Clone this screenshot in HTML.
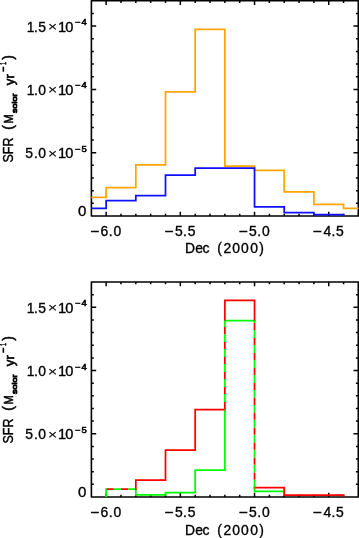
<!DOCTYPE html>
<html><head><meta charset="utf-8"><style>
html,body{margin:0;padding:0;background:#fff;overflow:hidden}
svg{display:block}
</style></head><body>
<svg width="359" height="538" viewBox="0 0 359 538">
<rect width="359" height="538" fill="#fff"/>
<rect x="91.4" y="0.8" width="266.90" height="215.20" fill="none" stroke="#000" stroke-width="1.6" stroke-linejoin="round"/>
<path d="M106.14,216.0v-4.2M106.14,0.8v4.2M120.98,216.0v-2.3M120.98,0.8v2.3M135.82,216.0v-2.3M135.82,0.8v2.3M150.66,216.0v-2.3M150.66,0.8v2.3M165.50,216.0v-2.3M165.50,0.8v2.3M180.34,216.0v-4.2M180.34,0.8v4.2M195.18,216.0v-2.3M195.18,0.8v2.3M210.02,216.0v-2.3M210.02,0.8v2.3M224.86,216.0v-2.3M224.86,0.8v2.3M239.70,216.0v-2.3M239.70,0.8v2.3M254.54,216.0v-4.2M254.54,0.8v4.2M269.38,216.0v-2.3M269.38,0.8v2.3M284.22,216.0v-2.3M284.22,0.8v2.3M299.06,216.0v-2.3M299.06,0.8v2.3M313.90,216.0v-2.3M313.90,0.8v2.3M328.74,216.0v-4.2M328.74,0.8v4.2M343.58,216.0v-2.3M343.58,0.8v2.3M91.4,203.34h2.4M358.3,203.34h-2.4M91.4,190.68h2.4M358.3,190.68h-2.4M91.4,178.02h2.4M358.3,178.02h-2.4M91.4,165.36h2.4M358.3,165.36h-2.4M91.4,152.71h4.8M358.3,152.71h-4.8M91.4,140.05h2.4M358.3,140.05h-2.4M91.4,127.39h2.4M358.3,127.39h-2.4M91.4,114.73h2.4M358.3,114.73h-2.4M91.4,102.07h2.4M358.3,102.07h-2.4M91.4,89.41h4.8M358.3,89.41h-4.8M91.4,76.75h2.4M358.3,76.75h-2.4M91.4,64.09h2.4M358.3,64.09h-2.4M91.4,51.44h2.4M358.3,51.44h-2.4M91.4,38.78h2.4M358.3,38.78h-2.4M91.4,26.12h4.8M358.3,26.12h-4.8M91.4,13.46h2.4M358.3,13.46h-2.4" stroke="#000" stroke-width="1.5" fill="none"/>
<rect x="91.4" y="282.0" width="266.90" height="215.00" fill="none" stroke="#000" stroke-width="1.6" stroke-linejoin="round"/>
<path d="M106.14,497.0v-4.2M106.14,282.0v4.2M120.98,497.0v-2.3M120.98,282.0v2.3M135.82,497.0v-2.3M135.82,282.0v2.3M150.66,497.0v-2.3M150.66,282.0v2.3M165.50,497.0v-2.3M165.50,282.0v2.3M180.34,497.0v-4.2M180.34,282.0v4.2M195.18,497.0v-2.3M195.18,282.0v2.3M210.02,497.0v-2.3M210.02,282.0v2.3M224.86,497.0v-2.3M224.86,282.0v2.3M239.70,497.0v-2.3M239.70,282.0v2.3M254.54,497.0v-4.2M254.54,282.0v4.2M269.38,497.0v-2.3M269.38,282.0v2.3M284.22,497.0v-2.3M284.22,282.0v2.3M299.06,497.0v-2.3M299.06,282.0v2.3M313.90,497.0v-2.3M313.90,282.0v2.3M328.74,497.0v-4.2M328.74,282.0v4.2M343.58,497.0v-2.3M343.58,282.0v2.3M91.4,484.35h2.4M358.3,484.35h-2.4M91.4,471.71h2.4M358.3,471.71h-2.4M91.4,459.06h2.4M358.3,459.06h-2.4M91.4,446.41h2.4M358.3,446.41h-2.4M91.4,433.76h4.8M358.3,433.76h-4.8M91.4,421.12h2.4M358.3,421.12h-2.4M91.4,408.47h2.4M358.3,408.47h-2.4M91.4,395.82h2.4M358.3,395.82h-2.4M91.4,383.18h2.4M358.3,383.18h-2.4M91.4,370.53h4.8M358.3,370.53h-4.8M91.4,357.88h2.4M358.3,357.88h-2.4M91.4,345.24h2.4M358.3,345.24h-2.4M91.4,332.59h2.4M358.3,332.59h-2.4M91.4,319.94h2.4M358.3,319.94h-2.4M91.4,307.29h4.8M358.3,307.29h-4.8M91.4,294.65h2.4M358.3,294.65h-2.4" stroke="#000" stroke-width="1.5" fill="none"/>
<path d="M91.30,197.30 L106.14,197.30 L106.14,187.50 L135.82,187.50 L135.82,164.80 L165.50,164.80 L165.50,91.90 L195.18,91.90 L195.18,29.30 L224.86,29.30 L224.86,166.20 L254.54,166.20 L254.54,170.30 L284.22,170.30 L284.22,191.90 L313.90,191.90 L313.90,204.30 L343.58,204.30 L343.58,208.30 L358.42,208.30" fill="none" stroke="#ffa500" stroke-width="1.75"/>
<path d="M91.30,208.30 L106.14,208.30 L106.14,200.70 L135.82,200.70 L135.82,195.60 L165.50,195.60 L165.50,175.00 L195.18,175.00 L195.18,168.10 L224.86,168.10 L224.86,168.10 L254.54,168.10 L254.54,206.80 L284.22,206.80 L284.22,212.60 L313.90,212.60 L313.90,214.60 L343.58,214.60 L343.58,216.00" fill="none" stroke="#1010ff" stroke-width="1.75"/>
<path d="M135.82,489.10 L135.82,494.80 L165.50,494.80 L165.50,492.50 L195.18,492.50 L195.18,470.10 L224.86,470.10 L224.86,409.60" fill="none" stroke="#00ff00" stroke-width="1.75" stroke-linecap="square"/>
<path d="M224.86,320.60 L254.54,320.60" fill="none" stroke="#00ff00" stroke-width="1.75" stroke-linecap="square"/>
<path d="M254.54,487.50 L254.54,491.40 L284.22,491.40 L284.22,495.20" fill="none" stroke="#00ff00" stroke-width="1.75" stroke-linecap="square"/>
<path d="M135.82,489.10 L135.82,480.00 L165.50,480.00 L165.50,450.10 L195.18,450.10 L195.18,409.60 L224.86,409.60" fill="none" stroke="#ff0000" stroke-width="1.75" stroke-linecap="square"/>
<path d="M224.86,320.60 L224.86,300.40 L254.54,300.40 L254.54,320.60" fill="none" stroke="#ff0000" stroke-width="1.75" stroke-linecap="square"/>
<path d="M254.54,487.50 L284.22,487.50 L284.22,495.20 L343.58,495.20 L343.58,496.20" fill="none" stroke="#ff0000" stroke-width="1.75" stroke-linecap="square"/>
<path d="M106.14,496.20 L106.14,489.10" fill="none" stroke="#00ff00" stroke-width="1.75" stroke-linecap="square"/>
<path d="M106.14,489.10 L135.82,489.10" stroke="#00ff00" stroke-width="1.75" stroke-dasharray="7.30 7.00" stroke-dashoffset="-7.66"/>
<path d="M106.14,489.10 L135.82,489.10" stroke="#ff0000" stroke-width="1.75" stroke-dasharray="7.00 7.30" stroke-dashoffset="-0.66"/>
<path d="M224.86,320.60 L224.86,409.60" stroke="#00ff00" stroke-width="1.75" stroke-dasharray="7.91 7.05" stroke-dashoffset="-13.55"/>
<path d="M224.86,320.60 L224.86,409.60" stroke="#ff0000" stroke-width="1.75" stroke-dasharray="7.05 7.91" stroke-dashoffset="-6.50"/>
<path d="M254.54,320.60 L254.54,487.50" stroke="#00ff00" stroke-width="1.75" stroke-dasharray="7.92 7.05" stroke-dashoffset="-9.45"/>
<path d="M254.54,320.60 L254.54,487.50" stroke="#ff0000" stroke-width="1.75" stroke-dasharray="7.05 7.92" stroke-dashoffset="-2.40"/>
<g fill="#000" stroke="#000" stroke-width="0.35" style="font-kerning:none">
<text transform="translate(0,31.52) scale(1.0000,1)" x="26.64 34.03 38.34" font-size="13.900" font-family="'Liberation Sans', Arial, sans-serif" >1.5</text>
<text transform="translate(47.91,31.19) scale(1.1679,1)" font-size="13.444" font-family="'Liberation Sans', Arial, sans-serif" stroke-width="0.1">×</text>
<text transform="translate(0,31.52) scale(1.0500,1)" x="55.32 62.12" font-size="13.900" font-family="'Liberation Sans', Arial, sans-serif" >10</text>
<text transform="translate(0,25.12) scale(1.1400,1)" x="65.99 71.56" font-size="8.300" font-family="'Liberation Sans', Arial, sans-serif" stroke-width="0.55">−4</text>
<text transform="translate(0,94.81) scale(1.0000,1)" x="26.64 34.03 38.36" font-size="13.900" font-family="'Liberation Sans', Arial, sans-serif" >1.0</text>
<text transform="translate(47.91,94.49) scale(1.1679,1)" font-size="13.444" font-family="'Liberation Sans', Arial, sans-serif" stroke-width="0.1">×</text>
<text transform="translate(0,94.81) scale(1.0500,1)" x="55.32 62.12" font-size="13.900" font-family="'Liberation Sans', Arial, sans-serif" >10</text>
<text transform="translate(0,88.41) scale(1.1400,1)" x="65.99 71.56" font-size="8.300" font-family="'Liberation Sans', Arial, sans-serif" stroke-width="0.55">−4</text>
<text transform="translate(0,158.11) scale(1.0000,1)" x="25.34 34.03 38.36" font-size="13.900" font-family="'Liberation Sans', Arial, sans-serif" >5.0</text>
<text transform="translate(47.91,157.78) scale(1.1679,1)" font-size="13.444" font-family="'Liberation Sans', Arial, sans-serif" stroke-width="0.1">×</text>
<text transform="translate(0,158.11) scale(1.0500,1)" x="55.32 62.12" font-size="13.900" font-family="'Liberation Sans', Arial, sans-serif" >10</text>
<text transform="translate(0,151.71) scale(1.1400,1)" x="65.99 71.42" font-size="8.300" font-family="'Liberation Sans', Arial, sans-serif" stroke-width="0.55">−5</text>
<text transform="translate(78.11,216.26) scale(1.0664,1)" font-size="14.124" font-family="'Liberation Sans', Arial, sans-serif" >0</text>
<text transform="translate(90.48,235.57) scale(1.1474,1)" font-size="13.454" font-family="'Liberation Sans', Arial, sans-serif" >−</text>
<text transform="translate(0,235.70) scale(1.0000,1)" x="100.53 108.87 113.50" font-size="13.900" font-family="'Liberation Sans', Arial, sans-serif" >6.0</text>
<text transform="translate(164.68,235.57) scale(1.1474,1)" font-size="13.454" font-family="'Liberation Sans', Arial, sans-serif" >−</text>
<text transform="translate(0,235.70) scale(1.0000,1)" x="174.88 183.07 187.68" font-size="13.900" font-family="'Liberation Sans', Arial, sans-serif" >5.5</text>
<text transform="translate(238.88,235.57) scale(1.1474,1)" font-size="13.454" font-family="'Liberation Sans', Arial, sans-serif" >−</text>
<text transform="translate(0,235.70) scale(1.0000,1)" x="249.08 257.27 261.90" font-size="13.900" font-family="'Liberation Sans', Arial, sans-serif" >5.0</text>
<text transform="translate(313.08,235.57) scale(1.1474,1)" font-size="13.454" font-family="'Liberation Sans', Arial, sans-serif" >−</text>
<text transform="translate(0,235.70) scale(1.0000,1)" x="323.52 331.47 336.08" font-size="13.900" font-family="'Liberation Sans', Arial, sans-serif" >4.5</text>
<text transform="translate(0,252.90) scale(1.0000,1)" x="185.06 195.31 202.41 211.00 217.34 223.40 232.26 240.96 250.36 259.22" font-size="13.900" font-family="'Liberation Sans', Arial, sans-serif" >Dec (2000)</text>
<text transform="translate(13.31,162.52) rotate(-90) scale(0.8920,1)" font-size="13.983" font-family="'Liberation Sans', Arial, sans-serif" stroke-width="0.4">SFR</text>
<text transform="translate(13.21,129.72) rotate(-90) scale(0.9490,1)" font-size="14.705" font-family="'Liberation Sans', Arial, sans-serif" stroke-width="0.5">(</text>
<text transform="translate(12.95,123.46) rotate(-90) scale(0.9169,1)" font-size="12.064" font-family="'Liberation Sans', Arial, sans-serif" stroke-width="0.5">M</text>
<text transform="translate(17.08,113.00) rotate(-90) scale(1.2012,1)" font-size="7.489" font-family="'Liberation Sans', Arial, sans-serif" stroke-width="0.85">solor</text>
<text transform="translate(13.77,85.18) rotate(-90) scale(0.9893,1)" font-size="13.412" font-family="'Liberation Sans', Arial, sans-serif" stroke-width="0.6">yr</text>
<text transform="translate(9.35,72.26) rotate(-90) scale(0.6114,1)" font-size="16.833" font-family="'Liberation Sans', Arial, sans-serif" stroke-width="0.3">−</text>
<text transform="translate(6.05,64.70) rotate(-90) scale(0.5699,1)" font-size="8.140" font-family="'Liberation Sans', Arial, sans-serif" stroke-width="0.7">1</text>
<text transform="translate(13.43,59.63) rotate(-90) scale(0.8966,1)" font-size="15.564" font-family="'Liberation Sans', Arial, sans-serif" stroke-width="0.5">)</text>
<text transform="translate(0,312.69) scale(1.0000,1)" x="26.64 34.03 38.34" font-size="13.900" font-family="'Liberation Sans', Arial, sans-serif" >1.5</text>
<text transform="translate(47.91,312.37) scale(1.1679,1)" font-size="13.444" font-family="'Liberation Sans', Arial, sans-serif" stroke-width="0.1">×</text>
<text transform="translate(0,312.69) scale(1.0500,1)" x="55.32 62.12" font-size="13.900" font-family="'Liberation Sans', Arial, sans-serif" >10</text>
<text transform="translate(0,306.29) scale(1.1400,1)" x="65.99 71.56" font-size="8.300" font-family="'Liberation Sans', Arial, sans-serif" stroke-width="0.55">−4</text>
<text transform="translate(0,375.93) scale(1.0000,1)" x="26.64 34.03 38.36" font-size="13.900" font-family="'Liberation Sans', Arial, sans-serif" >1.0</text>
<text transform="translate(47.91,375.61) scale(1.1679,1)" font-size="13.444" font-family="'Liberation Sans', Arial, sans-serif" stroke-width="0.1">×</text>
<text transform="translate(0,375.93) scale(1.0500,1)" x="55.32 62.12" font-size="13.900" font-family="'Liberation Sans', Arial, sans-serif" >10</text>
<text transform="translate(0,369.53) scale(1.1400,1)" x="65.99 71.56" font-size="8.300" font-family="'Liberation Sans', Arial, sans-serif" stroke-width="0.55">−4</text>
<text transform="translate(0,439.16) scale(1.0000,1)" x="25.34 34.03 38.36" font-size="13.900" font-family="'Liberation Sans', Arial, sans-serif" >5.0</text>
<text transform="translate(47.91,438.84) scale(1.1679,1)" font-size="13.444" font-family="'Liberation Sans', Arial, sans-serif" stroke-width="0.1">×</text>
<text transform="translate(0,439.16) scale(1.0500,1)" x="55.32 62.12" font-size="13.900" font-family="'Liberation Sans', Arial, sans-serif" >10</text>
<text transform="translate(0,432.76) scale(1.1400,1)" x="65.99 71.42" font-size="8.300" font-family="'Liberation Sans', Arial, sans-serif" stroke-width="0.55">−5</text>
<text transform="translate(78.11,497.26) scale(1.0664,1)" font-size="14.124" font-family="'Liberation Sans', Arial, sans-serif" >0</text>
<text transform="translate(90.48,517.17) scale(1.1474,1)" font-size="13.454" font-family="'Liberation Sans', Arial, sans-serif" >−</text>
<text transform="translate(0,517.30) scale(1.0000,1)" x="100.53 108.87 113.50" font-size="13.900" font-family="'Liberation Sans', Arial, sans-serif" >6.0</text>
<text transform="translate(164.68,517.17) scale(1.1474,1)" font-size="13.454" font-family="'Liberation Sans', Arial, sans-serif" >−</text>
<text transform="translate(0,517.30) scale(1.0000,1)" x="174.88 183.07 187.68" font-size="13.900" font-family="'Liberation Sans', Arial, sans-serif" >5.5</text>
<text transform="translate(238.88,517.17) scale(1.1474,1)" font-size="13.454" font-family="'Liberation Sans', Arial, sans-serif" >−</text>
<text transform="translate(0,517.30) scale(1.0000,1)" x="249.08 257.27 261.90" font-size="13.900" font-family="'Liberation Sans', Arial, sans-serif" >5.0</text>
<text transform="translate(313.08,517.17) scale(1.1474,1)" font-size="13.454" font-family="'Liberation Sans', Arial, sans-serif" >−</text>
<text transform="translate(0,517.30) scale(1.0000,1)" x="323.52 331.47 336.08" font-size="13.900" font-family="'Liberation Sans', Arial, sans-serif" >4.5</text>
<text transform="translate(0,534.60) scale(1.0000,1)" x="185.06 195.31 202.41 211.00 217.34 223.40 232.26 240.96 250.36 259.22" font-size="13.900" font-family="'Liberation Sans', Arial, sans-serif" >Dec (2000)</text>
<text transform="translate(13.31,443.52) rotate(-90) scale(0.8920,1)" font-size="13.983" font-family="'Liberation Sans', Arial, sans-serif" stroke-width="0.4">SFR</text>
<text transform="translate(13.21,410.72) rotate(-90) scale(0.9490,1)" font-size="14.705" font-family="'Liberation Sans', Arial, sans-serif" stroke-width="0.5">(</text>
<text transform="translate(12.95,404.46) rotate(-90) scale(0.9169,1)" font-size="12.064" font-family="'Liberation Sans', Arial, sans-serif" stroke-width="0.5">M</text>
<text transform="translate(17.08,394.00) rotate(-90) scale(1.2012,1)" font-size="7.489" font-family="'Liberation Sans', Arial, sans-serif" stroke-width="0.85">solor</text>
<text transform="translate(13.77,366.18) rotate(-90) scale(0.9893,1)" font-size="13.412" font-family="'Liberation Sans', Arial, sans-serif" stroke-width="0.6">yr</text>
<text transform="translate(9.35,353.26) rotate(-90) scale(0.6114,1)" font-size="16.833" font-family="'Liberation Sans', Arial, sans-serif" stroke-width="0.3">−</text>
<text transform="translate(6.05,345.70) rotate(-90) scale(0.5699,1)" font-size="8.140" font-family="'Liberation Sans', Arial, sans-serif" stroke-width="0.7">1</text>
<text transform="translate(13.43,340.63) rotate(-90) scale(0.8966,1)" font-size="15.564" font-family="'Liberation Sans', Arial, sans-serif" stroke-width="0.5">)</text>
</g>
</svg>
</body></html>
